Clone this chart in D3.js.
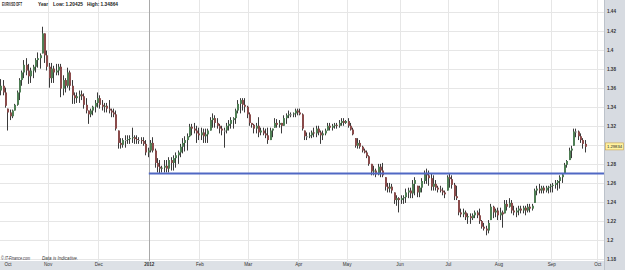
<!DOCTYPE html>
<html>
<head>
<meta charset="utf-8">
<script src="https://cdn.jsdelivr.net/npm/d3@7"></script>
<style>
    body { margin: 0; background: #fff; }
    svg { display: block; font-family: "Liberation Sans", Arial, sans-serif; }
</style>
</head>
<body>
<svg class="chart" width="625" height="270"></svg>
<script>
// daily EUR/USD bars, one per trading day from 3 Oct 2011
var opens = [
    1.357,1.362,1.355,1.338,1.334,1.330,1.336,1.342,1.355,1.368,
    1.376,1.384,1.378,1.372,1.378,1.382,1.389,1.391,1.396,1.417,
    1.394,1.382,1.370,1.380,1.376,1.378,1.382,1.359,1.368,1.362,
    1.376,1.362,1.352,1.349,1.351,1.353,1.351,1.342,1.336,1.332,
    1.336,1.340,1.344,1.349,1.342,1.340,1.341,1.338,1.336,1.334,
    1.332,1.315,1.302,1.300,1.305,1.305,1.306,1.307,1.308,1.306,
    1.305,1.305,1.304,1.301,1.292,1.294,1.302,1.294,1.281,1.277,
    1.275,1.276,1.278,1.275,1.284,1.281,1.286,1.289,1.292,1.298,
    1.302,1.305,1.309,1.319,1.317,1.315,1.312,1.310,1.313,1.309,
    1.311,1.315,1.326,1.328,1.323,1.320,1.317,1.315,1.315,1.320,
    1.322,1.326,1.328,1.336,1.343,1.347,1.342,1.340,1.332,1.323,
    1.321,1.317,1.320,1.313,1.315,1.312,1.310,1.305,1.315,1.318,
    1.323,1.321,1.323,1.320,1.328,1.331,1.332,1.332,1.333,1.336,
    1.334,1.332,1.315,1.309,1.309,1.310,1.313,1.312,1.317,1.313,
    1.310,1.312,1.315,1.320,1.318,1.320,1.321,1.320,1.323,1.325,
    1.323,1.325,1.320,1.316,1.307,1.299,1.302,1.298,1.294,1.292,
    1.288,1.280,1.272,1.273,1.269,1.277,1.273,1.266,1.256,1.254,
    1.256,1.250,1.242,1.244,1.242,1.244,1.245,1.250,1.252,1.249,
    1.259,1.257,1.250,1.255,1.262,1.270,1.268,1.265,1.256,1.259,
    1.255,1.253,1.252,1.250,1.252,1.266,1.264,1.258,1.246,1.242,
    1.229,1.227,1.229,1.224,1.225,1.223,1.226,1.229,1.226,1.220,
    1.214,1.212,1.210,1.221,1.235,1.229,1.231,1.226,1.229,1.228,
    1.238,1.235,1.239,1.231,1.229,1.231,1.233,1.231,1.234,1.231,
    1.235,1.233,1.239,1.252,1.254,1.252,1.255,1.252,1.255,1.256,
    1.257,1.258,1.260,1.262,1.266,1.270,1.279,1.284,1.294,1.299,
    1.314,1.314,1.309,1.305,1.301
];
var highs = [
    1.369,1.368,1.360,1.338,1.337,1.337,1.343,1.357,1.370,1.378,
    1.389,1.391,1.385,1.381,1.384,1.391,1.397,1.396,1.424,1.417,
    1.399,1.386,1.386,1.383,1.385,1.385,1.385,1.373,1.370,1.381,
    1.378,1.368,1.355,1.355,1.357,1.357,1.354,1.349,1.336,1.338,
    1.341,1.347,1.355,1.352,1.347,1.344,1.344,1.347,1.338,1.338,
    1.336,1.315,1.307,1.307,1.310,1.310,1.310,1.318,1.310,1.310,
    1.308,1.308,1.308,1.305,1.297,1.305,1.308,1.296,1.286,1.284,
    1.278,1.284,1.284,1.287,1.287,1.289,1.292,1.294,1.301,1.307,
    1.309,1.312,1.322,1.322,1.323,1.320,1.318,1.318,1.317,1.317,
    1.317,1.329,1.333,1.331,1.328,1.322,1.320,1.318,1.323,1.326,
    1.329,1.329,1.338,1.347,1.349,1.349,1.349,1.341,1.334,1.323,
    1.322,1.323,1.329,1.318,1.318,1.317,1.318,1.318,1.317,1.328,
    1.327,1.326,1.323,1.331,1.333,1.336,1.334,1.334,1.338,1.338,
    1.338,1.333,1.315,1.313,1.313,1.315,1.318,1.320,1.320,1.315,
    1.315,1.317,1.323,1.323,1.322,1.323,1.323,1.326,1.328,1.328,
    1.326,1.328,1.323,1.318,1.307,1.307,1.305,1.299,1.296,1.294,
    1.289,1.280,1.278,1.275,1.280,1.280,1.281,1.266,1.260,1.260,
    1.259,1.250,1.247,1.245,1.247,1.247,1.254,1.255,1.255,1.263,
    1.266,1.257,1.257,1.265,1.273,1.275,1.273,1.270,1.268,1.263,
    1.257,1.257,1.255,1.252,1.268,1.270,1.268,1.260,1.257,1.242,
    1.233,1.233,1.231,1.228,1.228,1.228,1.231,1.231,1.233,1.221,
    1.218,1.215,1.221,1.238,1.236,1.233,1.234,1.234,1.231,1.242,
    1.242,1.244,1.242,1.236,1.234,1.236,1.236,1.236,1.236,1.238,
    1.238,1.238,1.254,1.257,1.259,1.257,1.257,1.257,1.257,1.259,
    1.260,1.263,1.263,1.268,1.270,1.281,1.284,1.297,1.299,1.317,
    1.317,1.315,1.312,1.307,1.305
];
var lows = [
    1.352,1.352,1.339,1.315,1.326,1.328,1.336,1.341,1.347,1.362,
    1.370,1.373,1.364,1.365,1.370,1.376,1.381,1.380,1.396,1.386,
    1.378,1.360,1.365,1.365,1.373,1.373,1.350,1.352,1.355,1.360,
    1.357,1.343,1.343,1.344,1.344,1.347,1.338,1.333,1.322,1.329,
    1.331,1.334,1.339,1.338,1.336,1.334,1.334,1.333,1.329,1.329,
    1.315,1.296,1.296,1.297,1.297,1.301,1.301,1.302,1.301,1.301,
    1.301,1.301,1.299,1.289,1.287,1.292,1.292,1.276,1.271,1.270,
    1.271,1.271,1.271,1.271,1.273,1.273,1.276,1.280,1.287,1.291,
    1.293,1.294,1.308,1.310,1.312,1.302,1.305,1.305,1.302,1.302,
    1.302,1.315,1.318,1.318,1.317,1.312,1.310,1.297,1.312,1.315,
    1.317,1.317,1.322,1.333,1.333,1.336,1.334,1.328,1.320,1.318,
    1.312,1.312,1.308,1.310,1.310,1.307,1.301,1.305,1.308,1.318,
    1.318,1.318,1.312,1.320,1.322,1.328,1.329,1.329,1.329,1.331,
    1.331,1.315,1.305,1.305,1.307,1.307,1.308,1.308,1.310,1.301,
    1.305,1.310,1.315,1.315,1.315,1.317,1.317,1.318,1.320,1.320,
    1.322,1.318,1.315,1.310,1.297,1.296,1.296,1.292,1.291,1.286,
    1.278,1.268,1.268,1.266,1.268,1.266,1.266,1.252,1.250,1.250,
    1.249,1.238,1.236,1.229,1.238,1.238,1.239,1.244,1.244,1.244,
    1.247,1.245,1.245,1.250,1.259,1.259,1.257,1.252,1.252,1.252,
    1.250,1.250,1.247,1.244,1.252,1.255,1.254,1.242,1.242,1.226,
    1.224,1.224,1.221,1.217,1.217,1.221,1.223,1.223,1.217,1.212,
    1.210,1.205,1.207,1.221,1.223,1.224,1.221,1.221,1.213,1.228,
    1.231,1.234,1.228,1.226,1.224,1.226,1.228,1.228,1.226,1.229,
    1.229,1.231,1.239,1.247,1.249,1.249,1.249,1.250,1.249,1.250,
    1.250,1.254,1.252,1.254,1.260,1.270,1.276,1.284,1.286,1.299,
    1.308,1.305,1.302,1.296,1.292
];
var closes = [
    1.362,1.355,1.341,1.334,1.330,1.336,1.342,1.355,1.368,1.376,
    1.384,1.378,1.372,1.378,1.382,1.389,1.391,1.394,1.417,1.394,
    1.382,1.370,1.380,1.376,1.378,1.382,1.359,1.368,1.362,1.376,
    1.362,1.352,1.349,1.351,1.353,1.351,1.342,1.336,1.332,1.336,
    1.340,1.344,1.349,1.342,1.340,1.341,1.338,1.336,1.334,1.332,
    1.317,1.302,1.300,1.305,1.305,1.306,1.307,1.308,1.306,1.305,
    1.305,1.304,1.301,1.292,1.294,1.302,1.294,1.281,1.277,1.275,
    1.276,1.278,1.275,1.284,1.281,1.286,1.289,1.292,1.298,1.302,
    1.305,1.309,1.319,1.317,1.315,1.312,1.310,1.313,1.309,1.311,
    1.315,1.326,1.328,1.323,1.320,1.317,1.315,1.315,1.320,1.322,
    1.326,1.328,1.336,1.343,1.347,1.342,1.340,1.332,1.323,1.321,
    1.317,1.320,1.313,1.315,1.312,1.310,1.305,1.315,1.317,1.323,
    1.321,1.323,1.320,1.328,1.331,1.332,1.332,1.333,1.336,1.334,
    1.332,1.317,1.309,1.309,1.310,1.313,1.312,1.317,1.313,1.310,
    1.312,1.315,1.320,1.318,1.320,1.321,1.320,1.323,1.325,1.323,
    1.325,1.320,1.316,1.311,1.299,1.302,1.298,1.294,1.292,1.288,
    1.280,1.272,1.273,1.269,1.277,1.273,1.268,1.256,1.254,1.256,
    1.252,1.242,1.244,1.242,1.244,1.245,1.250,1.252,1.249,1.259,
    1.263,1.250,1.255,1.262,1.270,1.268,1.265,1.256,1.259,1.255,
    1.253,1.252,1.250,1.248,1.266,1.264,1.258,1.246,1.244,1.229,
    1.227,1.229,1.224,1.225,1.223,1.226,1.229,1.226,1.220,1.214,
    1.212,1.210,1.218,1.235,1.229,1.231,1.226,1.229,1.227,1.238,
    1.235,1.239,1.231,1.229,1.231,1.233,1.231,1.234,1.231,1.235,
    1.233,1.236,1.252,1.254,1.252,1.255,1.252,1.255,1.256,1.257,
    1.258,1.260,1.262,1.266,1.269,1.279,1.283,1.294,1.296,1.314,
    1.314,1.309,1.305,1.301,1.298
];

var monthLabels = ["Oct", "Nov", "Dec", "2012", "Feb", "Mar", "Apr", "May", "Jun", "Jul", "Aug", "Sep", "Oct"];
var priceTicks = [1.18, 1.2, 1.22, 1.24, 1.26, 1.28, 1.3, 1.32, 1.34, 1.36, 1.38, 1.4, 1.42, 1.44];
var supportLevel = 1.27;
var lastPrice = 1.29834;
var yearLow = 1.20425;
var yearHigh = 1.34864;
var firstDay = new Date(2011, 9, 3);
var axisEnd = new Date(2012, 10, 1);

function PriceChart(svg) {
    this.svg = svg;
    this.plotW = 604;
    this.bandY = 261;
    // trading days only, so weekends leave no gaps
    this.days = d3.timeDay.range(firstDay, axisEnd).filter(function (d) {
        return d.getDay() !== 0 && d.getDay() !== 6;
    });
    this.x = d3.scaleLinear().domain([-0.2, 262.4]).range([0, this.plotW]);
    this.y = d3.scaleLinear().domain([1.18, 1.44]).range([259.1, 11.5]);
}

PriceChart.prototype.monthTicks = function () {
    var days = this.days;
    return d3.timeMonth.range(new Date(2011, 9, 1), axisEnd).map(function (m) {
        return d3.bisectLeft(days, m) - 0.5;
    });
};

PriceChart.prototype.draw = function () {
    var self = this;
    var svg = self.svg;
    var x = self.x, y = self.y;
    var ticks = self.monthTicks();

    // grey frame for the axes
    svg.append("rect")
        .attr("x", 0).attr("y", self.bandY)
        .attr("width", 625).attr("height", 270 - self.bandY)
        .attr("fill", "#dde1e6");
    svg.append("rect")
        .attr("x", self.plotW).attr("y", 0)
        .attr("width", 625 - self.plotW).attr("height", 270)
        .attr("fill", "#d7dbe1");
    svg.append("line")
        .attr("x1", self.plotW + 0.5).attr("x2", self.plotW + 0.5)
        .attr("y1", 0).attr("y2", 270)
        .attr("stroke", "#bcc2ca");

    var grid = svg.append("g").attr("class", "grid");
    grid.selectAll("line.h")
        .data(priceTicks)
        .enter().append("line")
        .attr("class", "h")
        .attr("x1", 0).attr("x2", self.plotW)
        .attr("y1", function (d) { return Math.round(y(d)) + 0.5; })
        .attr("y2", function (d) { return Math.round(y(d)) + 0.5; })
        .attr("stroke", "#e6e6e6");
    grid.selectAll("line.v")
        .data(ticks)
        .enter().append("line")
        .attr("class", "v")
        .attr("x1", function (d) { return Math.round(x(d)) + 0.5; })
        .attr("x2", function (d) { return Math.round(x(d)) + 0.5; })
        .attr("y1", 0).attr("y2", self.bandY)
        .attr("stroke", function (d, i) { return monthLabels[i] === "2012" ? "#a9a9a9" : "#e6e6e6"; });

    self.drawBars();

    // horizontal support line from the start of 2012
    svg.append("line")
        .attr("x1", x(ticks[3])).attr("x2", self.plotW)
        .attr("y1", y(supportLevel)).attr("y2", y(supportLevel))
        .attr("stroke", "#5068c4")
        .attr("stroke-width", 2);

    self.drawAxes(ticks);
    self.drawTexts();
};

PriceChart.prototype.drawBars = function () {
    var x = this.x, y = this.y;
    var bars = this.svg.append("g").attr("class", "bars")
        .selectAll("g.bar")
        .data(closes)
        .enter().append("g")
        .attr("class", "bar")
        .attr("transform", function (d, i) { return "translate(" + Math.round(x(i)) + ",0)"; });

    bars.append("line")
        .attr("x1", 0.5).attr("x2", 0.5)
        .attr("y1", function (d, i) { return y(highs[i]); })
        .attr("y2", function (d, i) { return y(lows[i]); })
        .attr("stroke", "#3a3a3a");

    bars.append("rect")
        .attr("x", 0)
        .attr("width", 2)
        .attr("y", function (d, i) { return y(Math.max(opens[i], closes[i])); })
        .attr("height", function (d, i) { return Math.max(1, Math.abs(y(opens[i]) - y(closes[i]))); })
        .attr("fill", function (d, i) {
            if (closes[i] > opens[i]) return "#4f7f55";
            if (closes[i] < opens[i]) return "#8a4b4b";
            return "#9a9a9a";
        });
};

PriceChart.prototype.drawAxes = function (ticks) {
    var svg = this.svg;
    var y = this.y;
    var py = y(lastPrice);

    // the last price marker hides the tick label it sits on
    var shownTicks = priceTicks.filter(function (d) { return Math.abs(y(d) - py) > 6; });

    var yAxis = svg.append("g")
        .attr("transform", "translate(606,0)")
        .call(d3.axisRight(y)
            .tickValues(shownTicks)
            .tickSize(0)
            .tickPadding(1)
            .tickFormat(d3.format(".3~f")));
    yAxis.select(".domain").remove();
    yAxis.selectAll("text")
        .attr("font-size", 4.6)
        .attr("font-weight", "bold")
        .attr("font-family", "Liberation Sans, Arial, sans-serif")
        .attr("fill", "#333");

    var xAxis = svg.append("g")
        .attr("transform", "translate(0," + this.bandY + ")")
        .call(d3.axisBottom(this.x)
            .tickValues(ticks)
            .tickSize(0)
            .tickPadding(2)
            .tickFormat(function (d, i) { return monthLabels[i]; }));
    xAxis.select(".domain").remove();
    xAxis.selectAll("text")
        .attr("font-size", 4.6)
        .attr("font-family", "Liberation Sans, Arial, sans-serif")
        .attr("font-weight", function (d, i) { return monthLabels[i] === "2012" ? "bold" : "normal"; })
        .attr("fill", "#333");
    // first month sits on the left edge, keep its label inside
    xAxis.select(".tick").attr("transform", "translate(8,0)");

    // last price marker
    svg.append("rect")
        .attr("x", 605.5).attr("y", py - 3.5)
        .attr("width", 18).attr("height", 7)
        .attr("fill", "#fff2a0")
        .attr("stroke", "#c9a24a")
        .attr("stroke-width", 0.6);
    svg.append("text")
        .attr("x", 614.5).attr("y", py + 1.6)
        .attr("text-anchor", "middle")
        .attr("font-size", 4.2)
        .attr("fill", "#222")
        .text(d3.format(".5f")(lastPrice));
};

PriceChart.prototype.drawTexts = function () {
    var svg = this.svg;
    var header = [
        { text: "EUR/USD DFT", x: 2, len: 20 },
        { text: "Year", x: 38, len: 10 },
        { text: "Low: " + d3.format(".5f")(yearLow), x: 53, len: 30 },
        { text: "High: " + d3.format(".5f")(yearHigh), x: 87, len: 31 }
    ];
    svg.append("g").selectAll("text")
        .data(header)
        .enter().append("text")
        .attr("x", function (d) { return d.x; })
        .attr("y", 5.5)
        .attr("textLength", function (d) { return d.len; })
        .attr("lengthAdjust", "spacingAndGlyphs")
        .attr("font-size", 4.8)
        .attr("font-weight", "bold")
        .attr("fill", "#222")
        .text(function (d) { return d.text; });

    var footer = [
        { text: "\u00a9 IT-Finance.com", x: 1, len: 29 },
        { text: "Data is Indicative.", x: 42, len: 36 }
    ];
    svg.append("g").selectAll("text")
        .data(footer)
        .enter().append("text")
        .attr("x", function (d) { return d.x; })
        .attr("y", 259.5)
        .attr("textLength", function (d) { return d.len; })
        .attr("lengthAdjust", "spacingAndGlyphs")
        .attr("font-size", 4.6)
        .attr("font-style", "italic")
        .attr("fill", "#333")
        .text(function (d) { return d.text; });
};

new PriceChart(d3.select("svg.chart")).draw();
</script>
</body>
</html>
